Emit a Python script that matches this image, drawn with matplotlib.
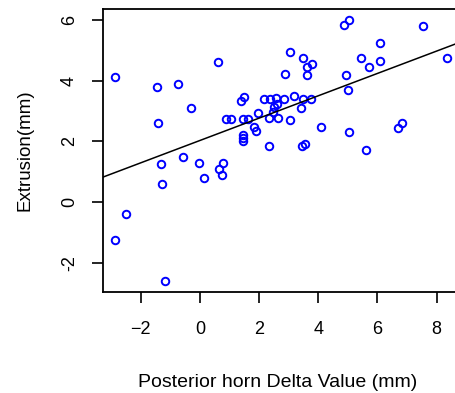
import matplotlib
matplotlib.use("Agg")
import matplotlib.pyplot as plt
import numpy as np

plt.rcParams['font.family'] = ['Liberation Sans', 'DejaVu Sans']

# Posterior horn delta value (mm) vs extrusion (mm)
delta = [-2.87, -1.47, -0.75, 0.61, -0.31, -1.43, -1.33, -0.58, -0.03, 0.14,
         0.78, 0.65, 0.75, -1.29, -2.49, -2.86, -1.17, 3.03, 3.47, 3.78,
         3.61, 2.89, 3.63, 1.50, 1.40, 2.18, 2.36, 2.56, 2.85, 3.17,
         3.48, 3.75, 3.42, 2.49, 2.59, 2.46, 0.89, 1.06, 1.47, 1.64,
         1.95, 2.35, 2.63, 3.04, 1.81, 1.90, 1.47, 1.47, 1.47, 4.10,
         2.35, 3.45, 3.56, 4.88, 5.05, 7.55, 6.08, 5.46, 6.08, 5.73,
         8.37, 4.95, 5.01, 5.05, 6.69, 6.83, 5.60]
extrusion = [4.10, 3.79, 3.89, 4.62, 3.10, 2.60, 1.25, 1.48, 1.28, 0.79,
             1.29, 1.09, 0.89, 0.59, -0.39, -1.23, -2.60, 4.93, 4.73, 4.55,
             4.44, 4.21, 4.18, 3.46, 3.33, 3.40, 3.40, 3.42, 3.40, 3.48,
             3.40, 3.40, 3.10, 3.13, 3.23, 2.97, 2.72, 2.72, 2.72, 2.72,
             2.92, 2.78, 2.78, 2.70, 2.48, 2.33, 2.22, 2.12, 2.00, 2.48,
             1.84, 1.84, 1.92, 5.83, 6.00, 5.80, 5.24, 4.73, 4.65, 4.43,
             4.73, 4.18, 3.69, 2.31, 2.43, 2.60, 1.70]

# fitted line (abline)
intercept = 2.03
slope = 0.367

x_ticks = [-2, 0, 2, 4, 6, 8]
y_ticks = [-2, 0, 2, 4, 6]

fig = plt.figure(figsize=(4.55, 3.93), dpi=100)
# frame runs past the right edge of the picture
ax = fig.add_axes([103 / 455, 101 / 393, 0.85, 283 / 393])

ax.plot(delta, extrusion, 'o', mfc='none', mec='#0000ff', ms=5.4, mew=1.4)
ax.axline((0, intercept), slope=slope, color='black', lw=1.1)

ax.set_xlim(-3.28, 9.8)
ax.set_ylim(-2.95, 6.35)
ax.set_xticks(x_ticks)
ax.set_yticks(y_ticks)
ax.set_yticklabels([str(v) for v in y_ticks], rotation=90, va='center')
ax.tick_params(length=8, width=1.2, labelsize=13, direction='out')
ax.tick_params(axis='x', pad=13)
ax.tick_params(axis='y', pad=10)
for s in ax.spines.values():
    s.set_linewidth(1.3)

ax.set_xlabel("Posterior horn Delta Value (mm)", fontsize=14)
ax.xaxis.set_label_coords(175 / (0.85 * 455), -0.288)
ax.set_ylabel("Extrusion(mm)", fontsize=13.5, labelpad=20)

fig.savefig("out.png", dpi=100)
